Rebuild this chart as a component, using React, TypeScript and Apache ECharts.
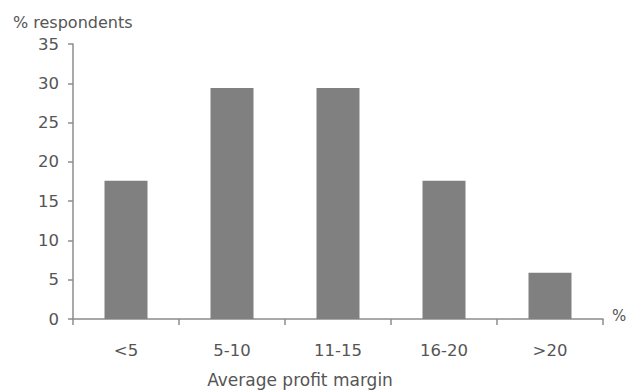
import React, { useEffect, useRef } from "react";
import * as echarts from "echarts";

const categories = ["<5", "5-10", "11-15", "16-20", ">20"];
const respondents = [17.6, 29.4, 29.4, 17.6, 5.9];
const yTicks = { min: 0, max: 35, interval: 5 };

const FONT = "DejaVu Sans";
const TEXT = "#555555";
const AXIS = "#8c8c8c";
const BAR = "#808080";

export default function App() {
  const ref = useRef<HTMLDivElement>(null);

  useEffect(() => {
    if (!ref.current) return;
    const chart = echarts.init(ref.current, undefined, { renderer: "svg" });
    chart.setOption({
      animation: false,
      backgroundColor: "#ffffff",
      grid: { left: 73, right: 25, top: 44, bottom: 73, containLabel: false },
      xAxis: {
        type: "category",
        data: categories,
        boundaryGap: true,
        axisLine: { lineStyle: { color: AXIS, width: 1.5 } },
        axisTick: { show: true, length: 6, lineStyle: { color: AXIS, width: 1.5 } },
        axisLabel: { color: TEXT, fontFamily: FONT, fontSize: 16.5, margin: 23 },
        splitLine: { show: false },
      },
      yAxis: {
        type: "value",
        min: yTicks.min,
        max: yTicks.max,
        interval: yTicks.interval,
        axisLine: { show: true, lineStyle: { color: AXIS, width: 1.5 } },
        axisTick: { show: true, length: 5, lineStyle: { color: AXIS, width: 1.5 } },
        axisLabel: {
          color: TEXT,
          fontFamily: FONT,
          fontSize: 16.5,
          margin: 14,
          padding: [6, 0, 0, 0],
        },
        splitLine: { show: false },
      },
      graphic: [
        {
          type: "text",
          left: 13,
          top: 14,
          style: { text: "% respondents", fill: TEXT, font: `16px "${FONT}"` },
        },
        {
          type: "text",
          left: 612,
          top: 308,
          style: { text: "%", fill: TEXT, font: `15px "${FONT}"` },
        },
        {
          type: "text",
          x: 300,
          y: 380,
          style: {
            text: "Average profit margin",
            fill: TEXT,
            font: `17px "${FONT}"`,
            textAlign: "center",
            textVerticalAlign: "middle",
          },
        },
      ],
      series: [
        {
          type: "bar",
          data: respondents,
          barWidth: 43,
          itemStyle: { color: BAR },
        },
      ],
    });
    return () => chart.dispose();
  }, []);

  return <div ref={ref} style={{ width: 628, height: 392, position: "absolute", left: 0, top: 0 }} />;
}
